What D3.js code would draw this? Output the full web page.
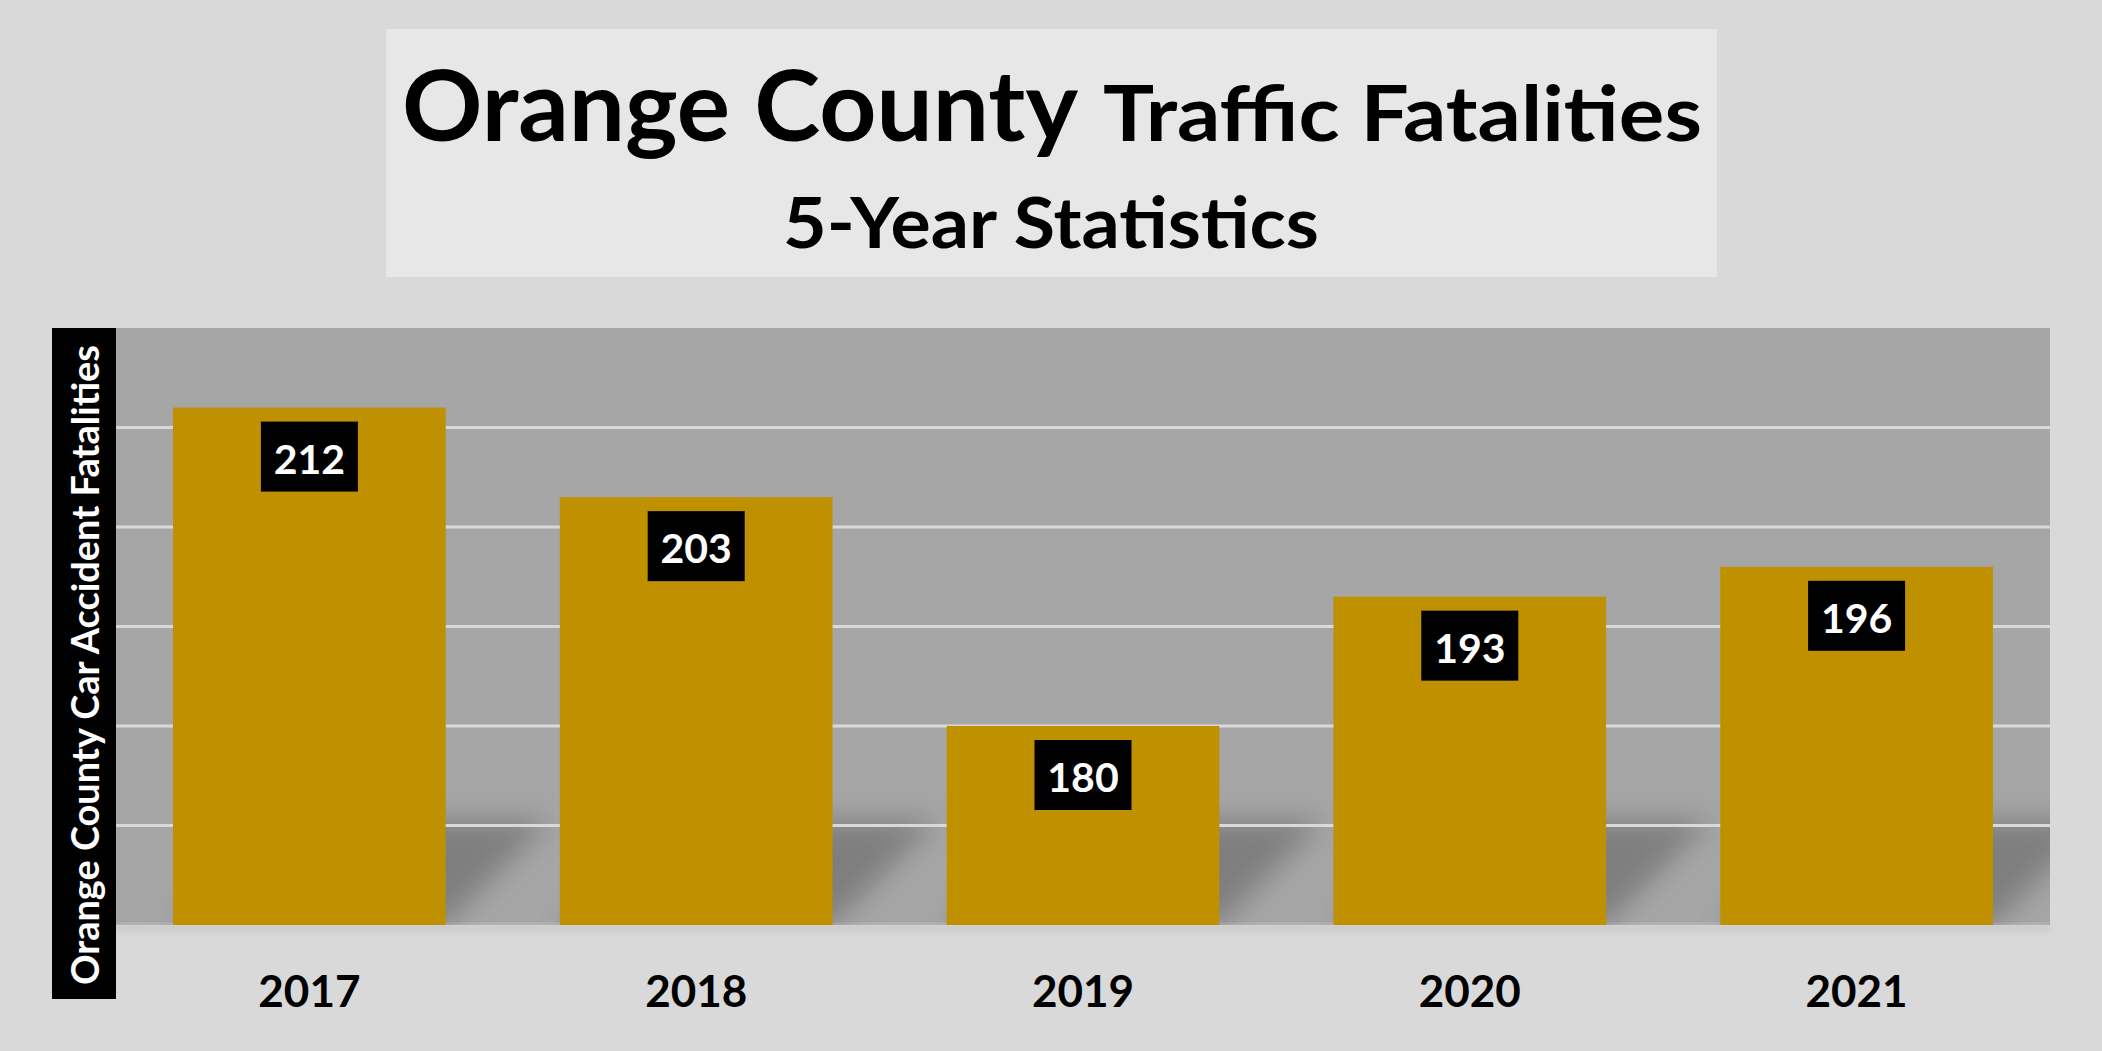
<!DOCTYPE html>
<html>
<head>
<meta charset="utf-8">
<script src="https://cdn.jsdelivr.net/npm/d3@7/dist/d3.min.js"></script>
<style>
  html, body { margin: 0; padding: 0; background: #d9d9d9; }
  svg { display: block; }
  text { font-family: Lato, "Open Sans", sans-serif; font-weight: 700; }
</style>
</head>
<body>
<svg id="chart" width="2102" height="1051"></svg>
<script>
// ---- data ----
const years = ["2017", "2018", "2019", "2020", "2021"];
const fatalities = [212, 203, 180, 193, 196];
const gridTicks = [170, 180, 190, 200, 210];
const titleMain = "Orange County";
const titleSecond = "Traffic Fatalities";
const subtitle = "5-Year Statistics";
const yAxisTitle = "Orange County Car Accident Fatalities";

// ---- layout ----
const W = 2102, H = 1051;
const plot = { left: 116, right: 2050, top: 328, bottom: 925 };

const svg = d3.select("#chart");
svg.append("rect").attr("width", W).attr("height", H).attr("fill", "#d9d9d9");

const x = d3.scaleBand().domain(years).range([plot.left, plot.right])
  .paddingInner(0.295).paddingOuter(0.1475);
const y = d3.scaleLinear().domain([160, 220]).range([plot.bottom, plot.top]);

const defs = svg.append("defs");
defs.append("clipPath").attr("id", "plotClip").append("rect")
  .attr("x", plot.left).attr("y", plot.top)
  .attr("width", plot.right - plot.left).attr("height", plot.bottom - plot.top);
const blur = defs.append("filter").attr("id", "shadowBlur")
  .attr("x", "-50%").attr("y", "-50%").attr("width", "200%").attr("height", "200%");
blur.append("feGaussianBlur").attr("stdDeviation", 14);
const blur2 = defs.append("filter").attr("id", "edgeBlur")
  .attr("x", "-20%").attr("y", "-50%").attr("width", "140%").attr("height", "300%");
blur2.append("feGaussianBlur").attr("stdDeviation", 3);

// title box
svg.append("rect").attr("x", 386).attr("y", 29).attr("width", 1331).attr("height", 248)
  .attr("fill", "#e7e7e7");
svg.append("text").attr("x", 402).attr("y", 141).attr("font-size", 98)
  .attr("textLength", 676).attr("lengthAdjust", "spacingAndGlyphs")
  .attr("fill", "#000").text(titleMain);
svg.append("text").attr("x", 1103).attr("y", 141).attr("font-size", 77)
  .attr("textLength", 599).attr("lengthAdjust", "spacingAndGlyphs")
  .attr("fill", "#000").text(titleSecond);
svg.append("text").attr("x", 1051).attr("y", 248).attr("font-size", 71)
  .attr("text-anchor", "middle")
  .attr("textLength", 536).attr("lengthAdjust", "spacingAndGlyphs")
  .attr("fill", "#000").text(subtitle);

// plot background
svg.append("rect").attr("x", plot.left).attr("y", plot.top)
  .attr("width", plot.right - plot.left).attr("height", plot.bottom - plot.top)
  .attr("fill", "#a6a6a6");

// faint shadow strip below plot
svg.append("rect").attr("x", plot.left).attr("y", plot.bottom)
  .attr("width", plot.right - plot.left).attr("height", 6)
  .attr("fill", "#c8c8c8").attr("filter", "url(#edgeBlur)");

// bar perspective shadows
const shadowG = svg.append("g").attr("clip-path", "url(#plotClip)");
const sh = 105, sx = 105;
shadowG.selectAll("path.shadow").data(years).join("path")
  .attr("class", "shadow")
  .attr("d", d => {
    const x0 = x(d), x1 = x(d) + x.bandwidth(), b = y(160);
    return `M${x0},${b}L${x1},${b}L${x1 + sx},${b - sh}L${x0 + sx},${b - sh}Z`;
  })
  .attr("fill", "#5e5e5e").attr("opacity", 0.55)
  .attr("filter", "url(#shadowBlur)");

// gridlines
svg.append("g").selectAll("line").data(gridTicks).join("line")
  .attr("x1", plot.left).attr("x2", plot.right)
  .attr("y1", d => y(d)).attr("y2", d => y(d))
  .attr("stroke", "#d9d9d9").attr("stroke-width", 3);

// bars
svg.append("g").selectAll("rect").data(years).join("rect")
  .attr("x", d => x(d)).attr("width", x.bandwidth())
  .attr("y", (d, i) => y(fatalities[i]))
  .attr("height", (d, i) => y(160) - y(fatalities[i]))
  .attr("fill", "#bf9000");

// data labels
const lab = svg.append("g").selectAll("g").data(years).join("g")
  .attr("transform", (d, i) => `translate(${x(d) + x.bandwidth() / 2},${y(fatalities[i]) + 14})`);
lab.append("rect").attr("x", -48.5).attr("y", 0).attr("width", 97).attr("height", 70)
  .attr("fill", "#000");
lab.append("text").attr("x", 0).attr("y", 52).attr("text-anchor", "middle")
  .attr("font-size", 41).attr("fill", "#fff")
  .text((d, i) => fatalities[i]);

// x axis labels
svg.append("g").selectAll("text").data(years).join("text")
  .attr("x", d => x(d) + x.bandwidth() / 2).attr("y", 1007)
  .attr("text-anchor", "middle").attr("font-size", 44).attr("fill", "#000")
  .text(d => d);

// y axis title box
svg.append("rect").attr("x", 52).attr("y", 328).attr("width", 64).attr("height", 671)
  .attr("fill", "#000");
svg.append("text").attr("transform", "translate(99,665) rotate(-90)")
  .attr("text-anchor", "middle").attr("font-size", 38).attr("fill", "#fff")
  .attr("textLength", 640).attr("lengthAdjust", "spacingAndGlyphs")
  .text(yAxisTitle);
</script>
</body>
</html>
